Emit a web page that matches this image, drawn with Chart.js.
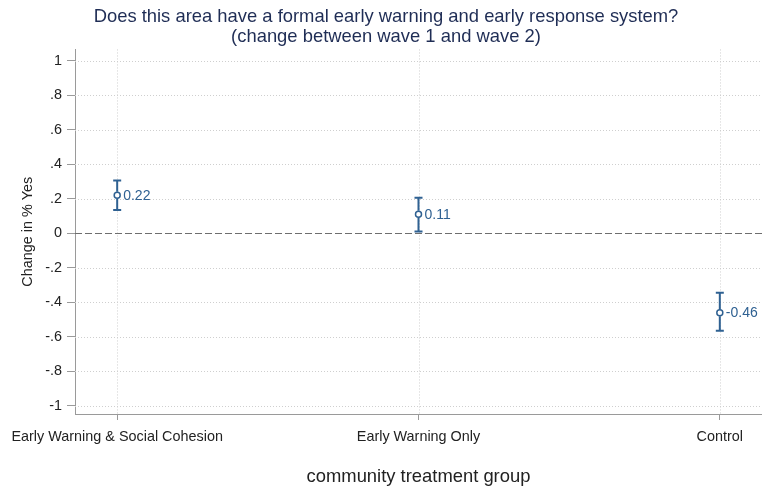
<!DOCTYPE html>
<html>
<head>
<meta charset="utf-8">
<script src="https://cdn.jsdelivr.net/npm/chart.js@4"></script>
<style>
  html, body { margin: 0; padding: 0; background: #fff; }
  #wrap { width: 762px; height: 487px; }
</style>
</head>
<body>
<div id="wrap"><canvas id="c" width="762" height="487"></canvas></div>
<script>
// Treatment groups and the wave 1 -> wave 2 change with its confidence interval
const categories = ['Early Warning & Social Cohesion', 'Early Warning Only', 'Control'];
const changeYes = [0.22, 0.11, -0.46];
const ciLow = [0.135, 0.01, -0.565];
const ciHigh = [0.305, 0.205, -0.345];

const yTickValues = [-1, -0.8, -0.6, -0.4, -0.2, 0, 0.2, 0.4, 0.6, 0.8, 1];
const yTickLabels = ['-1', '-.8', '-.6', '-.4', '-.2', '0', '.2', '.4', '.6', '.8', '1'];

const BLUE = '#2f6192';
const FONT = 'Liberation Sans, Arial, sans-serif';

// Dotted grid and dashed zero reference line, drawn beneath the markers
const gridPlugin = {
  id: 'stataGrid',
  beforeDatasetsDraw(chart) {
    const { ctx, chartArea: a, scales: { x, y } } = chart;
    ctx.save();
    ctx.lineWidth = 1;
    ctx.strokeStyle = '#cfcfcf';
    ctx.setLineDash([1, 2]);
    yTickValues.forEach(v => {
      if (v === 0) return;
      const py = Math.round(y.getPixelForValue(v)) + 0.5;
      ctx.beginPath(); ctx.moveTo(a.left, py); ctx.lineTo(a.right, py); ctx.stroke();
    });
    categories.forEach((c, i) => {
      const px = Math.round(x.getPixelForValue(i)) + 0.5;
      ctx.beginPath(); ctx.moveTo(px, a.top); ctx.lineTo(px, a.bottom); ctx.stroke();
    });
    ctx.strokeStyle = '#6e6e6e';
    ctx.setLineDash([7, 3]);
    const z = Math.round(y.getPixelForValue(0)) + 0.5;
    ctx.beginPath(); ctx.moveTo(a.left, z); ctx.lineTo(a.right, z); ctx.stroke();
    ctx.restore();
  }
};

// Capped interval bars plus the value label beside each point
const errorBarPlugin = {
  id: 'errorBars',
  afterDatasetsDraw(chart) {
    const { ctx, scales: { x, y } } = chart;
    ctx.save();
    ctx.strokeStyle = BLUE;
    ctx.lineWidth = 2;
    categories.forEach((c, i) => {
      const px = x.getPixelForValue(i);
      const top = y.getPixelForValue(ciHigh[i]);
      const bot = y.getPixelForValue(ciLow[i]);
      const mid = y.getPixelForValue(changeYes[i]);
      ctx.beginPath();
      ctx.moveTo(px, top); ctx.lineTo(px, mid - 3.5);
      ctx.moveTo(px, mid + 3.5); ctx.lineTo(px, bot);
      ctx.moveTo(px - 4, top); ctx.lineTo(px + 4, top);
      ctx.moveTo(px - 4, bot); ctx.lineTo(px + 4, bot);
      ctx.stroke();
      ctx.fillStyle = BLUE;
      ctx.font = '14px ' + FONT;
      ctx.textAlign = 'left';
      ctx.textBaseline = 'middle';
      ctx.fillText(changeYes[i].toFixed(2), px + 6, mid + 1);
    });
    ctx.restore();
  }
};

new Chart(document.getElementById('c'), {
  type: 'scatter',
  data: {
    datasets: [{
      data: changeYes.map((v, i) => ({ x: i, y: v })),
      pointRadius: 3,
      pointBorderWidth: 1.5,
      pointBorderColor: BLUE,
      pointBackgroundColor: '#ffffff',
      showLine: false
    }]
  },
  options: {
    responsive: false,
    animation: false,
    events: [],
    layout: { autoPadding: false, padding: { left: 10, right: 0, top: 0, bottom: 0 } },
    plugins: {
      legend: { display: false },
      tooltip: { enabled: false },
      title: {
        display: true,
        text: ['Does this area have a formal early warning and early response system?',
               '(change between wave 1 and wave 2)'],
        color: '#1f2d55',
        font: { family: FONT, size: 18.4, weight: 'normal', lineHeight: 1.1 },
        padding: { top: 7, bottom: 2 }
      }
    },
    scales: {
      x: {
        type: 'linear',
        min: -0.14,
        max: 2.14,
        afterBuildTicks(scale) { scale.ticks = categories.map((c, i) => ({ value: i })); },
        afterFit(scale) { scale.height = 73; scale.paddingLeft = 0; scale.paddingRight = 0; },
        ticks: {
          autoSkip: false,
          maxRotation: 0,
          padding: 8,
          color: '#222',
          font: { family: FONT, size: 14.4 },
          callback: v => categories[v]
        },
        grid: { drawOnChartArea: false, drawTicks: true, tickLength: 6, tickColor: '#9a9a9a' },
        border: { display: true, color: '#9a9a9a', width: 1 },
        title: {
          display: true,
          text: 'community treatment group',
          color: '#222',
          font: { family: FONT, size: 18.4 },
          padding: { top: 0, bottom: -1 }
        }
      },
      y: {
        type: 'linear',
        min: -1.047,
        max: 1.064,
        afterBuildTicks(scale) { scale.ticks = yTickValues.map(v => ({ value: v })); },
        afterFit(scale) { scale.width = 65; scale.paddingTop = 0; scale.paddingBottom = 0; },
        ticks: {
          autoSkip: false,
          padding: 5,
          color: '#222',
          font: { family: FONT, size: 14.4 },
          callback: v => yTickLabels[yTickValues.findIndex(t => Math.abs(t - v) < 1e-9)]
        },
        grid: { drawOnChartArea: false, drawTicks: true, tickLength: 8, tickColor: '#9a9a9a' },
        border: { display: true, color: '#9a9a9a', width: 1 },
        title: {
          display: true,
          text: 'Change in % Yes',
          color: '#222',
          font: { family: FONT, size: 14.4 },
          padding: { top: 9, bottom: 0 }
        }
      }
    }
  },
  plugins: [gridPlugin, errorBarPlugin]
});
</script>
</body>
</html>
